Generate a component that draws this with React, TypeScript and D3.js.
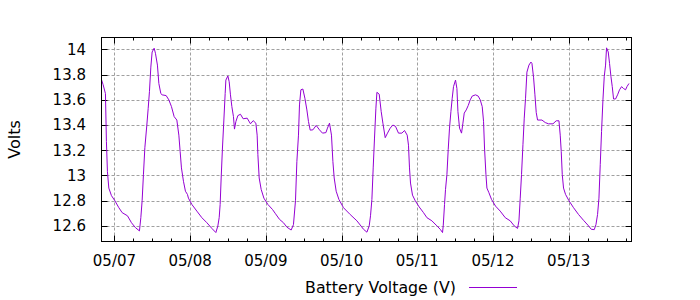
import React from "react";
import * as d3 from "d3";

// hours since 05/07 00:00
const hours = [
  -4.1, -3.58, -2.85, -2.54, -2.22, -1.78, -0.95, 0.13, 1.4, 2.45, 4.13, 5.4, 6.66, 7.93, 8.37, 8.78, 9.2, 9.64,
  10.27, 10.69, 11.1, 11.54, 11.95, 12.59, 13.0, 13.63, 14.08, 14.71, 15.12, 16.39, 17.25, 18.07, 18.93, 19.78,
  20.42, 20.83, 21.24, 21.88, 22.51, 23.14, 23.46, 24.54, 26.13, 27.71, 29.3, 30.88, 32.15, 32.78, 33.2, 33.51,
  33.83, 34.24, 34.69, 35.1, 35.32, 35.95, 36.37, 36.78, 37.22, 37.73, 38.05, 38.49, 39.12, 39.95, 40.8, 42.07,
  43.12, 43.98, 44.83, 45.24, 45.47, 45.88, 46.51, 47.37, 48.64, 50.1, 50.95, 52.31, 53.58, 54.66, 56.02, 56.75,
  57.39, 57.83, 58.34, 58.66, 59.1, 59.73, 60.37, 61.0, 61.51, 62.05, 62.9, 63.95, 65.0, 65.95, 67.03, 67.53,
  68.17, 68.8, 69.25, 69.66, 70.29, 71.15, 72.61, 74.73, 76.86, 77.9, 78.95, 80.03, 80.76, 81.17, 81.61, 82.02,
  82.44, 82.88, 83.2, 83.93, 84.56, 85.1, 85.83, 86.56, 87.41, 88.27, 89.09, 90.04, 91.12, 91.95, 92.8, 93.21,
  93.53, 93.85, 94.48, 95.34, 96.61, 97.97, 99.05, 100.63, 102.22, 103.27, 104.0, 104.22, 104.63, 104.95, 105.39,
  105.8, 106.21, 106.66, 107.07, 107.48, 108.12, 108.56, 108.88, 109.39, 110.02, 110.46, 110.88, 111.51, 112.14,
  112.78, 113.41, 114.46, 115.31, 115.95, 116.58, 117.0, 117.31, 117.76, 118.07, 118.71, 119.53, 120.8, 122.29,
  123.88, 125.46, 126.73, 127.78, 128.22, 128.63, 129.04, 129.49, 129.9, 130.31, 130.75, 131.39, 132.02, 132.34,
  132.85, 133.29, 133.7, 134.12, 135.51, 136.56, 137.6, 139.0, 140.04, 140.9, 141.31, 141.63, 141.95, 142.36,
  142.99, 144.07, 145.53, 147.12, 148.7, 150.29, 151.14, 152.09, 152.63, 153.14, 153.58, 153.99, 154.41, 154.85,
  155.26, 155.68, 155.99, 156.53, 156.94, 157.39, 157.8, 158.21, 158.85, 159.48, 160.11, 160.75, 161.38, 162.02,
  162.46, 163.1,
];
const volts = [
  13.76, 13.72, 13.65, 13.27, 13.03, 12.9, 12.84, 12.8, 12.744, 12.705, 12.68, 12.625, 12.586, 12.56, 12.665, 12.8,
  13.01, 13.22, 13.4, 13.53, 13.665, 13.86, 13.98, 14.01, 13.97, 13.876, 13.73, 13.65, 13.64, 13.634, 13.6, 13.547,
  13.467, 13.44, 13.32, 13.19, 13.06, 12.954, 12.875, 12.85, 12.82, 12.77, 12.717, 12.665, 12.625, 12.58, 12.547,
  12.6, 12.665, 12.77, 12.98, 13.218, 13.44, 13.65, 13.757, 13.79, 13.744, 13.64, 13.547, 13.467, 13.368, 13.427,
  13.475, 13.486, 13.45, 13.455, 13.41, 13.435, 13.415, 13.32, 13.165, 12.98, 12.89, 12.82, 12.77, 12.73, 12.7,
  12.652, 12.625, 12.59, 12.567, 12.61, 12.8, 13.11, 13.32, 13.56, 13.68, 13.686, 13.613, 13.52, 13.428, 13.36,
  13.362, 13.397, 13.362, 13.336, 13.34, 13.376, 13.415, 13.32, 13.11, 12.98, 12.875, 12.81, 12.744, 12.69, 12.64,
  12.607, 12.573, 12.55, 12.6, 12.68, 12.81, 13.06, 13.297, 13.534, 13.66, 13.645, 13.507, 13.415, 13.3, 13.336,
  13.376, 13.4, 13.39, 13.336, 13.336, 13.357, 13.32, 13.24, 13.06, 12.94, 12.844, 12.8, 12.75, 12.705, 12.665,
  12.64, 12.6, 12.573, 12.547, 12.6, 12.77, 12.89, 13.007, 13.205, 13.376, 13.507, 13.613, 13.705, 13.757, 13.69,
  13.507, 13.376, 13.336, 13.415, 13.495, 13.52, 13.555, 13.6, 13.63, 13.64, 13.63, 13.6, 13.547, 13.43, 13.218,
  13.007, 12.9, 12.863, 12.81, 12.757, 12.717, 12.665, 12.64, 12.6, 12.58, 12.64, 12.82, 13.007, 13.244, 13.455,
  13.613, 13.82, 13.876, 13.9, 13.89, 13.78, 13.64, 13.5, 13.44, 13.44, 13.42, 13.41, 13.41, 13.434, 13.434, 13.32,
  13.19, 13.007, 12.9, 12.85, 12.8, 12.744, 12.69, 12.644, 12.6, 12.573, 12.57, 12.61, 12.69, 12.82, 13.086, 13.35,
  13.6, 13.784, 13.876, 14.013, 13.98, 13.89, 13.784, 13.705, 13.607, 13.607, 13.64, 13.68, 13.705, 13.69, 13.68,
  13.705, 13.73,
];

const yTicks = [12.6, 12.8, 13, 13.2, 13.4, 13.6, 13.8, 14];
const yTickLabels = ["12.6", "12.8", "13", "13.2", "13.4", "13.6", "13.8", "14"];
const xTickHours = [0, 24, 48, 72, 96, 120, 144];
const xTickLabels = ["05/07", "05/08", "05/09", "05/10", "05/11", "05/12", "05/13"];
const xMinorHours = d3.range(6, 164, 6).filter((h) => h % 24 !== 0);
const xDomain = [-4.1, 163.9];
const yDomain = [12.476, 14.095];
const seriesName = "Battery Voltage (V)";
const yAxisTitle = "Volts";

const base = new Date(2016, 4, 7, 0, 0, 0).getTime();
const toDate = (h: number) => new Date(base + h * 3600e3);

export default function App() {
  const L = 101.5, R = 631.5, T = 37.5, B = 241.5;
  const x = d3.scaleTime().domain(xDomain.map(toDate)).range([L, R]);
  const y = d3.scaleLinear().domain(yDomain).range([B, T]);
  const pts = hours.map((h, i) => [toDate(h), volts[i]] as [Date, number]);
  const line = d3
    .line<[Date, number]>()
    .x((d) => x(d[0]))
    .y((d) => y(d[1]));
  const font = "'DejaVu Sans', sans-serif";
  const major = 6, minor = 3;
  return (
    <svg
      width={700}
      height={300}
      style={{ position: "absolute", left: 0, top: 0, background: "#fff" }}
      fontFamily={font}
    >
      <rect x={0} y={0} width={700} height={300} fill="#fff" />
      {yTicks.map((v) => (
        <line key={"gy" + v} x1={L} x2={R} y1={Math.round(y(v)) + 0.5} y2={Math.round(y(v)) + 0.5}
          stroke="#a0a0a0" strokeDasharray="3,2" />
      ))}
      {xTickHours.map((h) => (
        <line key={"gx" + h} y1={T} y2={B} x1={Math.round(x(toDate(h))) + 0.5} x2={Math.round(x(toDate(h))) + 0.5}
          stroke="#a0a0a0" strokeDasharray="3,2" />
      ))}
      {yTicks.map((v) => {
        const yy = Math.round(y(v)) + 0.5;
        return (
          <g key={"ty" + v}>
            <line x1={L} x2={L + major} y1={yy} y2={yy} stroke="#000" />
            <line x1={R} x2={R - major} y1={yy} y2={yy} stroke="#000" />
          </g>
        );
      })}
      {xTickHours.map((h) => {
        const xx = Math.round(x(toDate(h))) + 0.5;
        return (
          <g key={"tx" + h}>
            <line x1={xx} x2={xx} y1={B} y2={B - major} stroke="#000" />
            <line x1={xx} x2={xx} y1={T} y2={T + major} stroke="#000" />
          </g>
        );
      })}
      {xMinorHours.map((h) => {
        const xx = Math.round(x(toDate(h))) + 0.5;
        return (
          <g key={"mx" + h}>
            <line x1={xx} x2={xx} y1={B} y2={B - minor} stroke="#000" />
            <line x1={xx} x2={xx} y1={T} y2={T + minor} stroke="#000" />
          </g>
        );
      })}
      <path d={line(pts) || ""} fill="none" stroke="#9400d3" strokeWidth={1} />
      <rect x={L} y={T} width={R - L} height={B - T} fill="none" stroke="#000" />
      {yTicks.map((v, i) => (
        <text key={"ly" + v} x={86} y={y(v)} dy="0.36em" textAnchor="end" fontSize={15} fill="#000">
          {yTickLabels[i]}
        </text>
      ))}
      {xTickHours.map((h, i) => (
        <text key={"lx" + h} x={x(toDate(h))} y={266} textAnchor="middle" fontSize={15} fill="#000">
          {xTickLabels[i]}
        </text>
      ))}
      <text transform={`translate(20,${(T + B) / 2}) rotate(-90)`} textAnchor="middle" fontSize={16} fill="#000">
        {yAxisTitle}
      </text>
      <text x={456} y={292.5} textAnchor="end" fontSize={15.8} fill="#000">
        {seriesName}
      </text>
      <line x1={469} x2={517} y1={287.5} y2={287.5} stroke="#9400d3" />
    </svg>
  );
}
